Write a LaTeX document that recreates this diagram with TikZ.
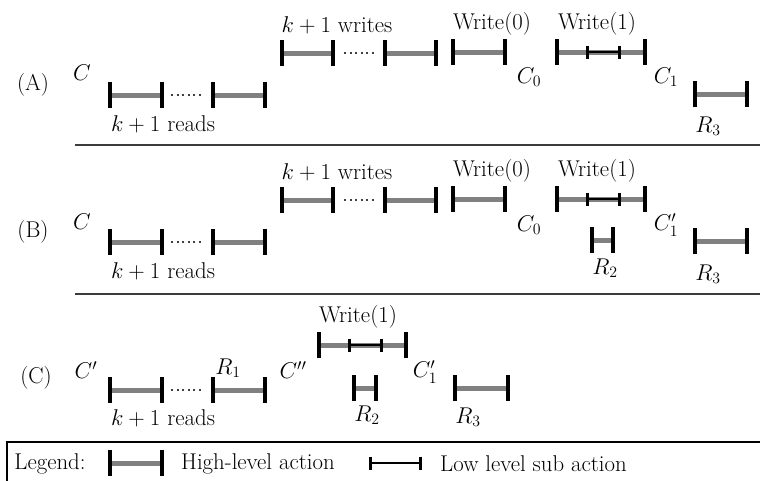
\documentclass[tikz,border=0pt]{standalone}
\definecolor{barg}{RGB}{128,128,128}
\definecolor{sepg}{RGB}{60,60,60}
\tikzset{
  hlbar/.style={draw=barg, line width=5pt},
  hltick/.style={draw=black, line width=4pt},
  llbar/.style={draw=black, line width=2.5pt},
  lltick/.style={draw=black, line width=3pt},
  dotsty/.style={draw=black!75, line width=1.4pt, dash pattern=on 2pt off 3.6pt},
  sepline/.style={draw=sepg, line width=2pt},
  lbl/.style={inner sep=0pt, anchor=center, scale=1.1, font=\fontsize{20.74}{25}\selectfont},
}
\newcommand\hlact[3]{%
  \draw[hlbar] (#1,#3) -- (#2,#3);
  \draw[hltick] (#1,#3-13) -- (#1,#3+13);
  \draw[hltick] (#2,#3-13) -- (#2,#3+13);
}
\newcommand\llact[3]{%
  \draw[llbar] (#1,#3) -- (#2,#3);
  \draw[lltick] (#1,#3-6.5) -- (#1,#3+6.5);
  \draw[lltick] (#2,#3-6.5) -- (#2,#3+6.5);
}
\newcommand\dotrun[3]{\draw[dotsty] (#1,#3) -- (#2,#3);}
\begin{document}
\begin{tikzpicture}[x=1pt, y=-1pt]
\useasboundingbox (0,0) rectangle (760,480);
\clip (0,0) rectangle (760,480);
% ---------- Row A ----------
\node[lbl] (labA) at (33,85) {(A)};
\node[lbl] (cA) at (82,73) {$C$};
\hlact{110}{162}{95}
\dotrun{171}{204}{95}
\hlact{213}{265}{95}
\node[lbl] (readsA) at (163,124) {$k+1$ reads};
\hlact{282}{333}{53}
\dotrun{344}{377}{53}
\hlact{385}{436}{53}
\node[lbl] (writesA) at (337,25) {$k+1$ writes};
\hlact{453}{505}{52}
\node[lbl] (w0A) at (492,24) {Write(0)};
\node[lbl] (c0A) at (529,77) {$C_0$};
\hlact{557}{645}{52}
\llact{587}{619}{52}
\node[lbl] (w1A) at (597,24) {Write(1)};
\node[lbl] (c1A) at (666,77) {$C_1$};
\hlact{695}{747}{94}
\node[lbl] (r3A) at (708,126) {$R_3$};
\draw[sepline] (75,145) -- (760,145);
% ---------- Row B ----------
\node[lbl] (labB) at (33,232) {(B)};
\node[lbl] (cB) at (82,222) {$C$};
\hlact{110}{162}{242}
\dotrun{171}{204}{242}
\hlact{213}{265}{242}
\node[lbl] (readsB) at (163,271) {$k+1$ reads};
\hlact{282}{333}{200}
\dotrun{344}{377}{200}
\hlact{385}{436}{200}
\node[lbl] (writesB) at (337,172) {$k+1$ writes};
\hlact{453}{505}{199}
\node[lbl] (w0B) at (492,171) {Write(0)};
\node[lbl] (c0B) at (529,225) {$C_0$};
\hlact{557}{645}{199}
\llact{587}{619}{199}
\node[lbl] (w1B) at (597,171) {Write(1)};
\hlact{592}{613}{240}
\node[lbl] (r2B) at (605,268) {$R_2$};
\node[lbl] (c1B) at (666,225) {$C_1'$};
\hlact{695}{747}{241}
\node[lbl] (r3B) at (708,274) {$R_3$};
\draw[sepline] (75,294) -- (760,294);
% ---------- Row C ----------
\node[lbl] (labC) at (36,378) {(C)};
\node[lbl] (cC) at (86,370) {$C'$};
\hlact{110}{162}{390}
\dotrun{171}{204}{390}
\hlact{213}{265}{390}
\node[lbl] (r1C) at (228,368) {$R_1$};
\node[lbl] (readsC) at (163,418) {$k+1$ reads};
\node[lbl] (cppC) at (293,370) {$C''$};
\hlact{319}{406}{345}
\llact{349}{381}{345}
\node[lbl] (w1C) at (358,317) {Write(1)};
\hlact{354}{376}{388}
\node[lbl] (r2C) at (367,415) {$R_2$};
\node[lbl] (c1C) at (425,372) {$C_1'$};
\hlact{455}{508}{388}
\node[lbl] (r3C) at (468,417) {$R_3$};
% ---------- Legend ----------
\draw[draw=black, line width=1.5pt] (7,442) rectangle (780,500);
\node[lbl] (legt) at (50,464) {Legend:};
\hlact{110}{162}{463}
\node[lbl, anchor=west] (hlt) at (181,464) {High-level action};
\llact{370}{420}{463}
\node[lbl, anchor=west] (llt) at (440,464) {Low level sub action};
\end{tikzpicture}
\end{document}
